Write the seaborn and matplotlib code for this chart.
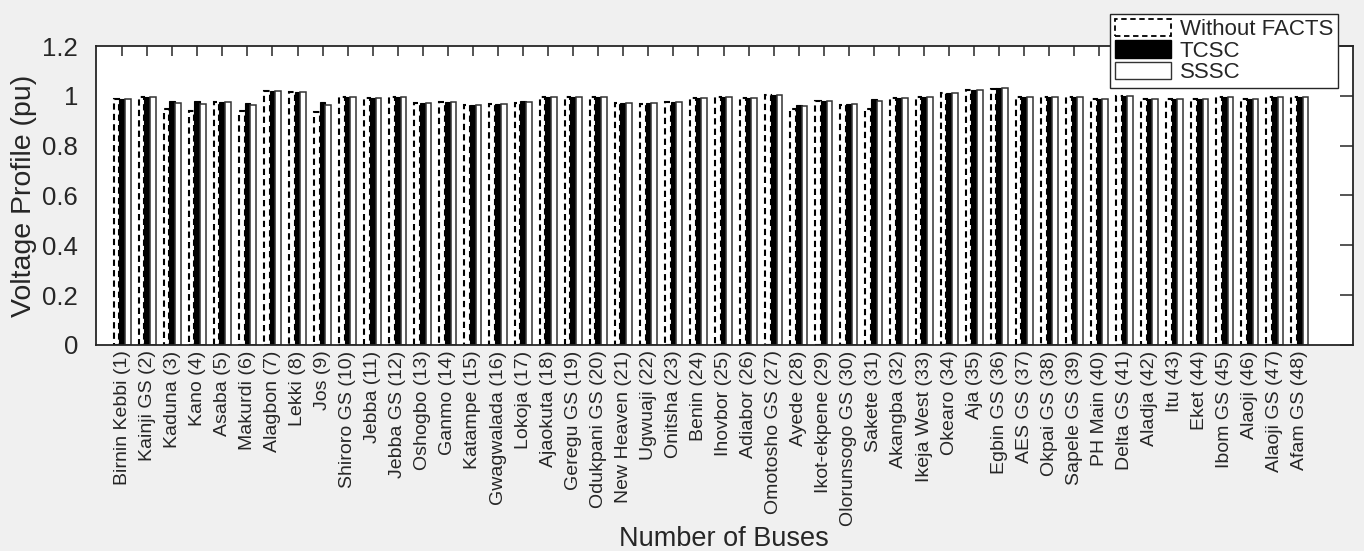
import numpy as np
import pandas as pd
import matplotlib
matplotlib.use("Agg")
import matplotlib.pyplot as plt
import seaborn as sns
from matplotlib.patches import Patch

# ---------- Data ----------
buses = [
    "Birnin Kebbi (1)", "Kainji GS (2)", "Kaduna (3)", "Kano (4)", "Asaba (5)",
    "Makurdi (6)", "Alagbon (7)", "Lekki (8)", "Jos (9)", "Shiroro GS (10)",
    "Jebba (11)", "Jebba GS (12)", "Oshogbo (13)", "Ganmo (14)", "Katampe (15)",
    "Gwagwalada (16)", "Lokoja (17)", "Ajaokuta (18)", "Geregu GS (19)",
    "Odukpani GS (20)", "New Heaven (21)", "Ugwuaji (22)", "Onitsha (23)",
    "Benin (24)", "Ihovbor (25)", "Adiabor (26)", "Omotosho GS (27)", "Ayede (28)",
    "Ikot-ekpene (29)", "Olorunsogo GS (30)", "Sakete (31)", "Akangba (32)",
    "Ikeja West (33)", "Okearo (34)", "Aja (35)", "Egbin GS (36)", "AES GS (37)",
    "Okpai GS (38)", "Sapele GS (39)", "PH Main (40)", "Delta GS (41)",
    "Aladja (42)", "Itu (43)", "Eket (44)", "Ibom GS (45)", "Alaoji (46)",
    "Alaoji GS (47)", "Afam GS (48)",
]

without_facts = [
    0.987, 0.997, 0.946, 0.938, 0.974, 0.938, 1.019, 1.014, 0.936, 0.997,
    0.993, 0.997, 0.971, 0.974, 0.963, 0.966, 0.970, 0.997, 0.997, 0.997,
    0.971, 0.969, 0.974, 0.993, 0.997, 0.992, 1.003, 0.946, 0.979, 0.965,
    0.946, 0.990, 0.994, 1.010, 1.023, 1.028, 0.997, 0.996, 0.996, 0.987,
    0.999, 0.987, 0.986, 0.988, 0.996, 0.988, 0.996, 0.996,
]
tcsc = [
    0.987, 0.997, 0.981, 0.979, 0.976, 0.971, 1.020, 1.015, 0.976, 0.997,
    0.993, 0.997, 0.972, 0.975, 0.965, 0.968, 0.979, 0.997, 0.997, 0.997,
    0.972, 0.970, 0.975, 0.993, 0.997, 0.992, 1.004, 0.962, 0.981, 0.966,
    0.987, 0.990, 0.995, 1.011, 1.025, 1.030, 0.997, 0.996, 0.996, 0.987,
    0.999, 0.987, 0.986, 0.988, 0.996, 0.988, 0.996, 0.996,
]
sssc = [
    0.987, 0.997, 0.970, 0.966, 0.974, 0.962, 1.020, 1.015, 0.964, 0.997,
    0.993, 0.997, 0.972, 0.975, 0.964, 0.967, 0.977, 0.997, 0.997, 0.997,
    0.971, 0.970, 0.975, 0.993, 0.997, 0.992, 1.004, 0.958, 0.980, 0.966,
    0.978, 0.990, 0.995, 1.011, 1.025, 1.030, 0.997, 0.996, 0.996, 0.987,
    0.999, 0.987, 0.986, 0.988, 0.996, 0.988, 0.996, 0.996,
]
series_names = ["Without FACTS", "TCSC", "SSSC"]
y_ticks = [0, 0.2, 0.4, 0.6, 0.8, 1, 1.2]

df = pd.DataFrame({
    "bus": buses * 3,
    "series": np.repeat(series_names, len(buses)),
    "value": without_facts + tcsc + sssc,
})

# ---------- Plot ----------
sns.set_style("white")
plt.rcParams["font.family"] = ["Liberation Sans", "DejaVu Sans"]

fig = plt.figure(figsize=(13.64, 5.51), dpi=100, facecolor="#f0f0f0")
ax = fig.add_axes([0.0704, 0.374, 0.9216, 0.5425])
ax.set_facecolor("white")

sns.barplot(data=df, x="bus", y="value", hue="series", order=buses,
            hue_order=series_names, palette=["white", "black", "white"],
            width=0.68, errorbar=None, legend=False, ax=ax)

# MATLAB-like bar styles: dashed outline, solid black, plain outline
styles = [((0, (3, 2)), 1.5, "black"), ("-", 0.8, "black"), ("-", 1.1, "#333333")]
for cont, (ls, lw, ec) in zip(ax.containers, styles):
    for bar in cont:
        bar.set_edgecolor(ec)
        bar.set_linestyle(ls)
        bar.set_linewidth(lw)

ax.set_xlim(-1.04, 49.12)
ax.set_ylim(0, 1.2)
ax.set_yticks(y_ticks)
ax.set_yticklabels([f"{t:g}" for t in y_ticks], fontsize=18.5, color="#262626")
ax.tick_params(axis="x", direction="in", top=True, length=7.5, width=1.1,
               color="#262626", labelsize=14, labelcolor="#262626",
               labelrotation=90, pad=4)
ax.tick_params(axis="y", direction="in", right=True, length=9.5, width=1.1,
               color="#262626", pad=13)
for s in ax.spines.values():
    s.set_color("#262626")
    s.set_linewidth(1.3)

ax.set_ylabel("Voltage Profile (pu)", fontsize=20.5, color="#262626", labelpad=4)
ax.set_xlabel("")
fig.text(0.531, 0.009, "Number of Buses", fontsize=19.5, ha="center",
         va="baseline", color="#262626")

handles = [
    Patch(facecolor="white", edgecolor="black", linestyle=(0, (3, 2)), linewidth=1.3),
    Patch(facecolor="black", edgecolor="black"),
    Patch(facecolor="white", edgecolor="#333333", linewidth=1.0),
]
leg = fig.legend(handles, series_names, loc="upper right",
                 bbox_to_anchor=(0.981, 0.975), fontsize=16, frameon=True,
                 fancybox=False, framealpha=1, edgecolor="#262626",
                 handlelength=2.5, handleheight=0.85, handletextpad=0.4,
                 labelspacing=0.0, borderpad=0.22, borderaxespad=0)
leg.get_frame().set_linewidth(1.0)

fig.savefig("out.png", dpi=100, facecolor=fig.get_facecolor())
